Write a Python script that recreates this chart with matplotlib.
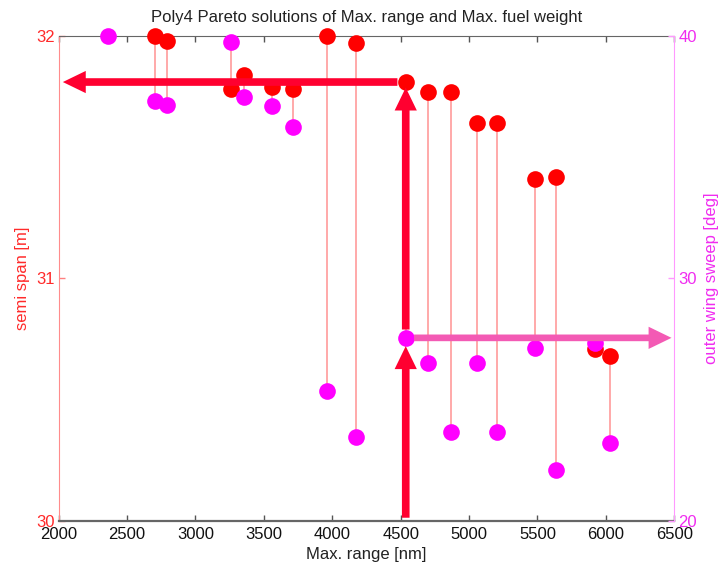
import numpy as np
import matplotlib
matplotlib.use("Agg")
import matplotlib.pyplot as plt

plt.rcParams["font.family"] = ["Liberation Sans", "DejaVu Sans"]

# Pareto solutions: max. range, semi span and outer wing sweep
max_range = [2359, 2705, 2793, 3257, 3357, 3559, 3710, 3959, 4171,
             4537, 4701, 4867, 5058, 5206, 5479, 5634, 5917, 6031]
semi_span = [np.nan, 32.00, 31.98, 31.78, 31.84, 31.79, 31.78, 32.00, 31.97,
             31.81, 31.77, 31.77, 31.64, 31.64, 31.41, 31.42, 30.71, 30.68]
sweep = [40.00, 37.33, 37.17, 39.76, 37.47, 37.11, 36.26, 25.36, 23.45,
         27.54, 26.49, 23.65, 26.49, 23.65, 27.11, 22.09, 27.32, 23.19]
selected = 9  # highlighted design

x_ticks = [2000, 2500, 3000, 3500, 4000, 4500, 5000, 5500, 6000, 6500]
span_ticks = [30, 31, 32]
sweep_ticks = [20, 30, 40]

RED = "#ff0000"
MAG = "#ff00ff"
SPAN_TXT = "#ff2a2a"
SWEEP_TXT = "#f02cf0"
STEM = "#ffa3a3"
ARROW_RED = "#ff0030"
ARROW_PINK = "#f35ab4"
FS = 12

fig = plt.figure(figsize=(7.19, 5.67), dpi=100)
ax1 = fig.add_axes([0.0816, 0.082, 0.8562, 0.8545])
ax2 = ax1.twinx()

ax1.set_xlim(x_ticks[0], x_ticks[-1])
ax1.set_ylim(span_ticks[0], span_ticks[-1])
ax2.set_ylim(sweep_ticks[0], sweep_ticks[-1])

x = np.array(max_range, dtype=float)
s = np.array(semi_span, dtype=float)
w = np.array(sweep, dtype=float)

# sweep expressed on the semi-span scale so stems sit behind both marker sets
(s0, s1), (w0, w1) = ax1.get_ylim(), ax2.get_ylim()
w_on_span = s0 + (w - w0) * (s1 - s0) / (w1 - w0)
ok = ~np.isnan(s)
ax1.vlines(x[ok], s[ok], w_on_span[ok], colors=STEM, lw=1.3, zorder=1)

ax1.plot(x, s, "o", color=RED, ms=12, mew=0, clip_on=False, zorder=3)
ax2.plot(x, w, "o", color=MAG, ms=12, mew=0, clip_on=False, zorder=3)

# axes styling
ax1.set_xticks(x_ticks)
ax1.set_yticks(span_ticks)
ax2.set_yticks(sweep_ticks)
ax1.tick_params(axis="x", direction="in", length=4, width=1, colors="#555555",
                labelcolor="#111111", labelsize=FS, top=True, pad=5)
ax1.tick_params(axis="y", direction="in", length=4, width=1, colors="#ff8080",
                labelcolor=SPAN_TXT, labelsize=FS, pad=3)
ax2.tick_params(axis="y", direction="in", length=4, width=1, colors="#ff99ff",
                labelcolor=SWEEP_TXT, labelsize=FS, pad=3)
for sp in ("top", "bottom"):
    ax1.spines[sp].set_color("#666666")
ax1.spines["bottom"].set_linewidth(1.6)
ax1.spines["left"].set_color("#ff8c8c")
ax2.spines["right"].set_color("#ff99ff")
ax2.spines["left"].set_visible(False)
ax2.spines["top"].set_visible(False)
ax2.spines["bottom"].set_visible(False)
ax1.spines["right"].set_visible(False)

ax1.set_xlabel("Max. range [nm]", fontsize=FS, color="#222222", labelpad=3)
ax1.set_ylabel("semi span [m]", fontsize=FS, color=SPAN_TXT, labelpad=4)
ax2.set_ylabel("outer wing sweep [deg]", fontsize=FS, color=SWEEP_TXT,
               rotation=90, labelpad=5)
ax1.set_title("Poly4 Pareto solutions of Max. range and Max. fuel weight",
              fontsize=FS, color="#222222", pad=10)

# arrows tracing the highlighted design
xs, ss, ws = x[selected], s[selected], w[selected]


def arrow(xy, xy_coords, start, start_coords, color, shrink_a, shrink_b, tail=5.5):
    ax2.annotate("", xy=xy, xycoords=xy_coords, xytext=start,
                 textcoords=start_coords, annotation_clip=False, zorder=5,
                 arrowprops=dict(arrowstyle=f"simple,head_length=16.5,head_width=16,tail_width={tail}",
                                 mutation_scale=1, fc=color, ec=color, lw=0,
                                 shrinkA=shrink_a, shrinkB=shrink_b))


arrow((xs, ws), ax2.transData, (xs, sweep_ticks[0]), ax2.transData, ARROW_RED, 2, 6)
arrow((xs, ss), ax1.transData, (xs, ws), ax2.transData, ARROW_RED, 6, 4)
arrow((x_ticks[0], ss), ax1.transData, (xs, ss), ax1.transData, ARROW_RED, 6, 3)
arrow((x_ticks[-1], ws), ax2.transData, (xs, ws), ax2.transData, ARROW_PINK, 6, 2, tail=4.8)

fig.savefig("out.png", dpi=100)
